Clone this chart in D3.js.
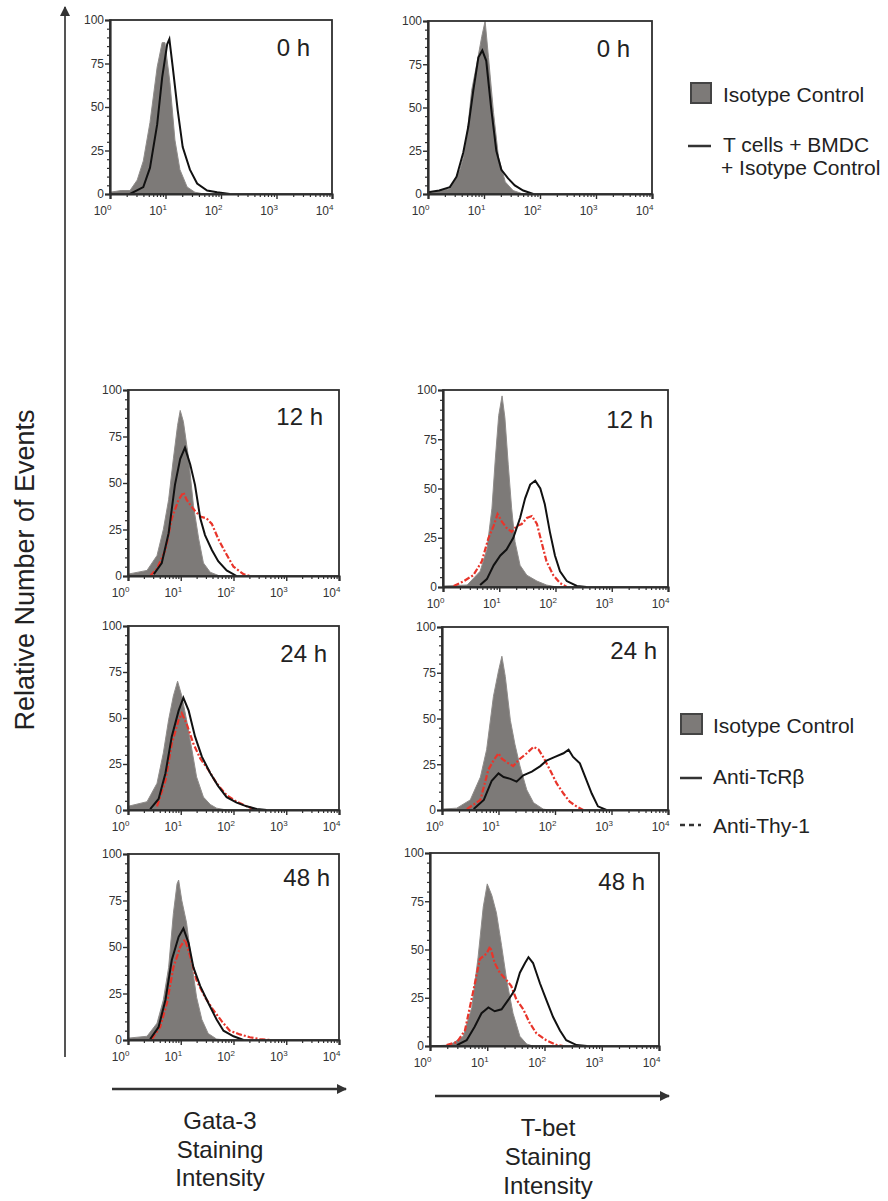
<!DOCTYPE html>
<html>
<head>
<meta charset="utf-8">
<script src="https://cdn.jsdelivr.net/npm/d3@7"></script>
<style>
  html, body { margin: 0; padding: 0; background: #fff; }
  svg { display: block; font-family: "Liberation Sans", Arial, sans-serif; }
</style>
</head>
<body>
<svg id="chart" width="888" height="1201"></svg>
<script>
// ---------- DATA: [log10(staining intensity), relative number of events] ----------
const timeLabels = ["0 h", "12 h", "24 h", "48 h"];
const yTicks = [0, 25, 50, 75, 100];
const xTicks = [1, 10, 100, 1000, 10000];
const xTickExp = ["0", "1", "2", "3", "4"];

// Gata-3, 0 h
const gata0Iso  = [[0,1],[0.2,2],[0.36,2],[0.49,8],[0.6,19],[0.72,41],[0.85,73],[0.94,87],[0.99,87],[1.08,64],[1.17,31],[1.26,14],[1.39,4],[1.53,1],[1.7,0]];
const gata0Tcell = [[0.36,0],[0.6,4],[0.72,15],[0.85,40],[0.94,67],[1.03,86],[1.07,89],[1.13,73],[1.22,48],[1.31,27],[1.44,14],[1.57,6],[1.75,2],[1.93,1],[2.16,0]];
// T-bet, 0 h
const tbet0Iso  = [[0,1],[0.09,1],[0.39,3],[0.57,14],[0.63,21],[0.7,35],[0.78,60],[0.87,75],[0.96,91],[1.02,100],[1.08,79],[1.17,47],[1.26,21],[1.38,7],[1.52,2],[1.7,0]];
const tbet0Tcell = [[0,1],[0.2,2],[0.39,4],[0.51,10],[0.63,24],[0.72,39],[0.81,60],[0.9,79],[0.97,83],[1.04,77],[1.13,49],[1.22,25],[1.31,14],[1.43,9],[1.55,5],[1.7,2],[1.88,0]];

// Gata-3, 12 h
const gata12Iso = [[0,1],[0.36,3],[0.55,11],[0.67,25],[0.77,41],[0.86,63],[0.94,81],[0.99,89],[1.05,83],[1.15,63],[1.24,38],[1.34,20],[1.43,7],[1.56,2],[1.74,0]];
const gata12TcR = [[0.49,1],[0.64,7],[0.77,23],[0.89,49],[0.99,63],[1.08,69],[1.18,60],[1.27,49],[1.37,31],[1.46,22],[1.59,14],[1.71,8],[1.87,3],[2.06,0]];
const gata12Thy = [[0.42,0],[0.55,4],[0.71,14],[0.83,31],[0.96,41],[1.05,45],[1.11,41],[1.24,36],[1.37,32],[1.49,31],[1.59,28],[1.71,20],[1.84,13],[2.0,5],[2.19,1],[2.31,0]];
// T-bet, 12 h
const tbet12Iso = [[0,0.5],[0.43,1],[0.66,8],[0.78,19],[0.87,40],[0.93,65],[0.99,87],[1.05,97],[1.1,86],[1.16,62],[1.22,40],[1.28,23],[1.37,11],[1.49,6],[1.67,3],[1.84,1],[2.02,0]];
const tbet12TcR = [[0.66,1],[0.78,4],[0.9,11],[1.02,16],[1.13,19],[1.25,25],[1.37,35],[1.46,45],[1.55,52],[1.64,54],[1.73,50],[1.81,42],[1.9,28],[1.99,16],[2.08,8],[2.2,3],[2.38,0.5],[2.55,0]];
const tbet12Thy = [[0.19,0.5],[0.37,3],[0.54,6],[0.69,13],[0.81,25],[0.9,31],[0.97,37],[1.05,33],[1.13,30],[1.22,28],[1.31,31],[1.4,32],[1.49,35],[1.58,36],[1.67,32],[1.75,23],[1.84,13],[1.96,6],[2.08,2],[2.2,0]];

// Gata-3, 24 h
const gata24Iso = [[0,2],[0.36,4.5],[0.55,14.5],[0.67,31],[0.77,49],[0.86,62],[0.94,70],[1.02,62],[1.11,49],[1.21,33],[1.3,18],[1.43,7],[1.56,3],[1.68,1],[1.87,0]];
const gata24TcR = [[0.42,0.5],[0.58,6],[0.71,20],[0.83,40],[0.96,54],[1.05,61],[1.15,54],[1.27,40],[1.4,29],[1.56,20],[1.71,13],[1.87,7],[2.06,4],[2.25,2],[2.44,0.5],[2.63,0]];
const gata24Thy = [[0.55,2],[0.71,16],[0.83,36],[0.96,49],[1.02,52.5],[1.11,47],[1.24,36],[1.37,28],[1.52,22],[1.68,14.5],[1.87,8],[2.06,4.5],[2.25,2],[2.44,0]];
// T-bet, 24 h
const tbet24Iso = [[0,0.5],[0.26,1],[0.5,5.5],[0.68,18],[0.79,33],[0.91,62],[1.0,76],[1.06,84],[1.12,73],[1.21,49],[1.29,36],[1.38,24],[1.5,11],[1.62,4],[1.79,0.5],[1.9,0]];
const tbet24TcR = [[0.56,0.5],[0.74,5.5],[0.88,16],[1.0,20],[1.09,18],[1.21,17],[1.32,15.5],[1.44,19],[1.59,21],[1.74,24],[1.85,27],[2.0,29],[2.15,31],[2.24,33],[2.32,29],[2.44,25.5],[2.56,16],[2.65,9],[2.76,2],[2.91,0]];
const tbet24Thy = [[0.44,0.5],[0.68,5.5],[0.82,22],[0.91,27],[1.0,31],[1.06,28],[1.15,26],[1.26,24],[1.38,28],[1.5,31],[1.62,34.5],[1.71,33],[1.79,29],[1.91,22],[2.03,14.5],[2.15,9],[2.26,4.5],[2.38,2],[2.5,0]];

// Gata-3, 48 h
const gata48Iso = [[0,1],[0.36,2],[0.55,9],[0.67,21.5],[0.77,39],[0.86,68],[0.93,84],[0.96,86],[1.02,75],[1.11,63],[1.21,41],[1.3,23],[1.4,11],[1.52,3.5],[1.68,0.5],[1.87,0]];
const gata48TcR = [[0.42,0.5],[0.58,7],[0.71,21.5],[0.83,43],[0.96,55.5],[1.05,60],[1.15,52],[1.24,39],[1.37,29],[1.52,20],[1.68,11],[1.81,5],[2.0,2],[2.19,0]];
const gata48Thy = [[0.45,0.5],[0.61,7],[0.74,20],[0.86,39],[0.99,50],[1.08,54],[1.18,45],[1.3,32],[1.46,23],[1.62,16],[1.78,10],[1.93,5],[2.12,3],[2.31,1.5],[2.5,0.5],[2.69,0]];
// T-bet, 48 h
const tbet48Iso = [[0,0],[0.35,0.5],[0.58,5],[0.73,20],[0.84,46],[0.93,72],[1.0,84],[1.08,78],[1.16,69],[1.25,52],[1.34,34],[1.45,17],[1.57,5],[1.69,1],[1.8,0]];
const tbet48TcR = [[0.47,0.5],[0.64,3],[0.78,10],[0.9,17],[1.02,20],[1.13,18],[1.25,19],[1.37,24],[1.48,29],[1.57,38],[1.66,43],[1.72,46],[1.8,43],[1.92,32.5],[2.03,24],[2.15,15],[2.27,8],[2.38,3],[2.56,0.5],[2.74,0]];
const tbet48Thy = [[0.29,0.5],[0.47,2],[0.61,8],[0.76,29],[0.87,45],[0.99,48],[1.05,51.5],[1.13,43],[1.22,38],[1.34,34],[1.42,31],[1.51,24],[1.63,19],[1.74,12],[1.86,6.5],[2.03,3],[2.21,0.5],[2.33,0]];

const legendTop = ["Isotype Control", "T cells + BMDC", "+ Isotype Control"];
const legendBottom = ["Isotype Control", "Anti-TcR\u03B2", "Anti-Thy-1"];
const yTitle = "Relative Number of Events";
const xTitleLeft = ["Gata-3", "Staining", "Intensity"];
const xTitleRight = ["T-bet", "Staining", "Intensity"];

// ---------- STYLE / LAYOUT ----------
const GRAY = "#7d7a78";
const FRAME = "#2e2e2e";
const RED = "#e8352b";
const INK = "#222";
const FONT = "Liberation Sans, Arial, sans-serif";

const panels = [
  {x0:110, x1:332, yTop:20,  yBot:194, t:0, lx:310, ly:56,  iso:gata0Iso,  solid:gata0Tcell},
  {x0:428, x1:652, yTop:21,  yBot:194, t:0, lx:630, ly:57,  iso:tbet0Iso,  solid:tbet0Tcell},
  {x0:128, x1:339, yTop:390, yBot:576, t:1, lx:323, ly:425, iso:gata12Iso, solid:gata12TcR, dash:gata12Thy},
  {x0:443, x1:668, yTop:390, yBot:587, t:1, lx:653, ly:428, iso:tbet12Iso, solid:tbet12TcR, dash:tbet12Thy},
  {x0:128, x1:339, yTop:626, yBot:810, t:2, lx:327, ly:662, iso:gata24Iso, solid:gata24TcR, dash:gata24Thy},
  {x0:442, x1:668, yTop:627, yBot:810, t:2, lx:657, ly:659, iso:tbet24Iso, solid:tbet24TcR, dash:tbet24Thy},
  {x0:128, x1:339, yTop:854, yBot:1040, t:3, lx:330, ly:886, iso:gata48Iso, solid:gata48TcR, dash:gata48Thy},
  {x0:430, x1:659, yTop:853, yBot:1046, t:3, lx:645, ly:890, iso:tbet48Iso, solid:tbet48TcR, dash:tbet48Thy}
];

const svg = d3.select("#chart");

const minorX = [];
for (let e = 0; e < 4; e++) for (let m = 2; m <= 9; m++) minorX.push(m * Math.pow(10, e));
const minorY = d3.range(0, 101, 5).filter(v => v % 25 !== 0);

panels.forEach(p => {
  const x = d3.scaleLog().domain([1, 10000]).range([p.x0, p.x1]);
  const y = d3.scaleLinear().domain([0, 100]).range([p.yBot, p.yTop]);
  const g = svg.append("g");
  const clipId = "clip" + p.x0 + "_" + p.yTop;
  g.append("clipPath").attr("id", clipId).append("rect")
    .attr("x", p.x0).attr("y", p.yTop).attr("width", p.x1 - p.x0).attr("height", p.yBot - p.yTop);

  const px = d => x(Math.pow(10, d[0]));
  const plot = g.append("g").attr("clip-path", `url(#${clipId})`);

  plot.append("path").datum(p.iso)
    .attr("d", d3.area().x(px).y0(y(0)).y1(d => y(d[1])))
    .attr("fill", GRAY).attr("stroke", "#8f8c8a").attr("stroke-width", 1);

  if (p.dash) {
    plot.append("path").datum(p.dash)
      .attr("d", d3.line().x(px).y(d => y(d[1])))
      .attr("fill", "none").attr("stroke", RED).attr("stroke-width", 2.2)
      .attr("stroke-dasharray", "6,2,2,2");
  }
  plot.append("path").datum(p.solid)
    .attr("d", d3.line().x(px).y(d => y(d[1])))
    .attr("fill", "none").attr("stroke", "#111").attr("stroke-width", 2);

  // frame
  g.append("rect").attr("x", p.x0).attr("y", p.yTop)
    .attr("width", p.x1 - p.x0).attr("height", p.yBot - p.yTop)
    .attr("fill", "none").attr("stroke", FRAME).attr("stroke-width", 1.8);

  // y axis minor + major
  g.append("g").attr("transform", `translate(${p.x0},0)`)
    .call(d3.axisLeft(y).tickValues(minorY).tickSize(3).tickFormat(""))
    .call(a => a.select(".domain").remove())
    .call(a => a.selectAll("line").attr("stroke", FRAME).attr("stroke-width", 1.2));
  g.append("g").attr("transform", `translate(${p.x0},0)`)
    .call(d3.axisLeft(y).tickValues(yTicks).tickSize(5).tickPadding(1))
    .call(a => a.select(".domain").attr("stroke", FRAME).attr("stroke-width", 2.2))
    .call(a => a.selectAll("line").attr("stroke", FRAME).attr("stroke-width", 1.4))
    .call(a => a.selectAll("text").attr("font-size", 12).attr("fill", "#333")
      .attr("font-family", FONT));

  // x axis minor + major
  g.append("g").attr("transform", `translate(0,${p.yBot})`)
    .call(d3.axisBottom(x).tickValues(minorX).tickSize(3).tickFormat(""))
    .call(a => a.select(".domain").remove())
    .call(a => a.selectAll("line").attr("stroke", FRAME).attr("stroke-width", 1.2));
  const xa = g.append("g").attr("transform", `translate(0,${p.yBot})`)
    .call(d3.axisBottom(x).tickValues(xTicks).tickSize(5).tickPadding(7).tickFormat(""));
  xa.select(".domain").attr("stroke", FRAME).attr("stroke-width", 2.2);
  xa.selectAll("line").attr("stroke", FRAME).attr("stroke-width", 1.4);
  xa.selectAll("text").each(function(d, i) {
    const t = d3.select(this).attr("font-size", 12).attr("fill", "#333")
      .attr("text-anchor", "end").attr("dx", "1")
      .attr("font-family", FONT);
    t.text("");
    t.append("tspan").text("10");
    t.append("tspan").attr("font-size", 8).attr("dy", "-5").text(xTickExp[i]);
  });

  // time label
  g.append("text").attr("x", p.lx).attr("y", p.ly).attr("text-anchor", "end")
    .attr("font-size", 24).attr("fill", INK).text(timeLabels[p.t]);
});

// ---------- big axis arrows ----------
const defs = svg.append("defs");
defs.append("marker").attr("id", "arrow").attr("viewBox", "0 0 10 10")
  .attr("refX", 9).attr("refY", 5).attr("markerWidth", 12).attr("markerHeight", 10)
  .attr("markerUnits", "userSpaceOnUse").attr("orient", "auto")
  .append("path").attr("d", "M0,0 L10,5 L0,10 Z").attr("fill", "#333");

svg.append("line").attr("x1", 65).attr("y1", 1057).attr("x2", 65).attr("y2", 7)
  .attr("stroke", "#555").attr("stroke-width", 2).attr("marker-end", "url(#arrow)");
svg.append("text").attr("transform", "translate(34,570) rotate(-90)")
  .attr("text-anchor", "middle").attr("font-size", 27).attr("fill", INK).text(yTitle);

svg.append("line").attr("x1", 112).attr("y1", 1089).attr("x2", 346).attr("y2", 1089)
  .attr("stroke", "#333").attr("stroke-width", 2.5).attr("marker-end", "url(#arrow)");
svg.append("line").attr("x1", 435).attr("y1", 1096).attr("x2", 669).attr("y2", 1096)
  .attr("stroke", "#333").attr("stroke-width", 2.5).attr("marker-end", "url(#arrow)");

const tl = svg.append("text").attr("text-anchor", "middle").attr("font-size", 24).attr("fill", INK);
xTitleLeft.forEach((s, i) => tl.append("tspan").attr("x", 220).attr("y", 1129 + i * 28.5).text(s));
const tr = svg.append("text").attr("text-anchor", "middle").attr("font-size", 24).attr("fill", INK);
xTitleRight.forEach((s, i) => tr.append("tspan").attr("x", 548).attr("y", 1136 + i * 29).text(s));

// ---------- legends ----------
const lg1 = svg.append("g").attr("font-size", 21).attr("fill", INK);
lg1.append("rect").attr("x", 691).attr("y", 83).attr("width", 20).attr("height", 20)
  .attr("fill", GRAY).attr("stroke", "#444").attr("stroke-width", 2);
lg1.append("text").attr("x", 723).attr("y", 102).text(legendTop[0]);
lg1.append("line").attr("x1", 688).attr("x2", 711).attr("y1", 146).attr("y2", 146)
  .attr("stroke", "#333").attr("stroke-width", 2.5);
lg1.append("text").attr("x", 723).attr("y", 152).text(legendTop[1]);
lg1.append("text").attr("x", 721).attr("y", 175).text(legendTop[2]);

const lg2 = svg.append("g").attr("font-size", 21).attr("fill", INK);
lg2.append("rect").attr("x", 681).attr("y", 714).attr("width", 21).attr("height", 20)
  .attr("fill", GRAY).attr("stroke", "#444").attr("stroke-width", 2);
lg2.append("text").attr("x", 713).attr("y", 733).text(legendBottom[0]);
lg2.append("line").attr("x1", 680).attr("x2", 702).attr("y1", 778).attr("y2", 778)
  .attr("stroke", "#333").attr("stroke-width", 2.5);
lg2.append("text").attr("x", 713).attr("y", 784).text(legendBottom[1]);
lg2.append("line").attr("x1", 680).attr("x2", 701).attr("y1", 825).attr("y2", 825)
  .attr("stroke", "#333").attr("stroke-width", 2.5).attr("stroke-dasharray", "5,4");
lg2.append("text").attr("x", 713).attr("y", 833).text(legendBottom[2]);
</script>
</body>
</html>
